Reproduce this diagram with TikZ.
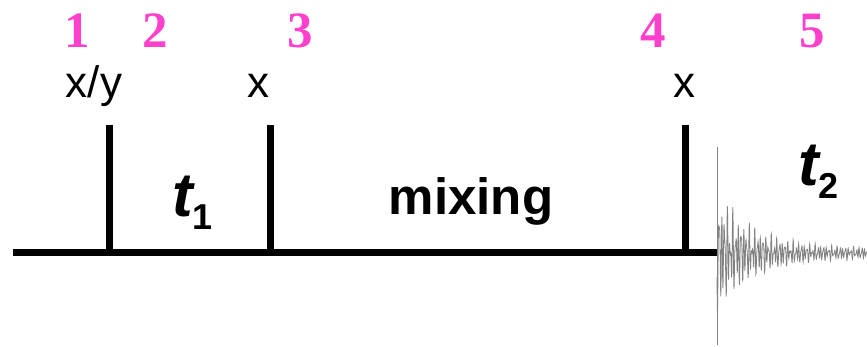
\documentclass[tikz,border=0pt]{standalone}
\usepackage{fontspec}
\setmainfont{Liberation Sans}
\newfontfamily\numfont{Liberation Serif}
\definecolor{pinklbl}{RGB}{255,64,204}
\definecolor{fidgray}{RGB}{130,130,130}
\begin{document}
\begin{tikzpicture}[x=1pt,y=-1pt,
  numlbl/.style={text=pinklbl,font=\numfont\bfseries\fontsize{51}{51}\selectfont,anchor=base,inner sep=0pt},
  phase/.style={font=\fontsize{44}{44}\selectfont,anchor=base,inner sep=0pt},
  pulse/.style={line width=7pt},
  baseline/.style={line width=7pt},
  period/.style={anchor=base west,inner sep=0pt}]
\useasboundingbox (0,0) rectangle (867,347);
% numbers
\node[numlbl] (n1) at (77,48) {1};
\node[numlbl] (n2) at (155,48) {2};
\node[numlbl] (n3) at (300,48) {3};
\node[numlbl] (n4) at (653,48) {4};
\node[numlbl] (n5) at (812,48) {5};
% phases
\node[phase] (p1) at (94,98) {x/y};
\node[phase] (p2) at (258,98) {x};
\node[phase] (p3) at (684,98) {x};
% base line and pulses
\coordinate (bs) at (13,253);
\coordinate (be) at (718,253);
\draw[baseline] (bs) -- (be);
\coordinate (a1) at (109,125); \coordinate (b1) at (109,253);
\coordinate (a2) at (270,125); \coordinate (b2) at (270,253);
\coordinate (a3) at (685,125); \coordinate (b3) at (685,253);
\draw[pulse] (b1) -- (a1);
\draw[pulse] (b2) -- (a2);
\draw[pulse] (b3) -- (a3);
% labels
\node[period] (t1) at (172,217) {{\fontsize{62}{62}\selectfont\bfseries\itshape t}\raisebox{-13pt}{\fontsize{36}{36}\selectfont\bfseries 1}};
\node[anchor=base,inner sep=0pt,font=\bfseries\fontsize{51}{51}\selectfont] (mix) at (471,215) {mixing};
\node[period] (t2) at (798,186) {{\fontsize{62}{62}\selectfont\bfseries\itshape t}\raisebox{-13pt}{\fontsize{36}{36}\selectfont\bfseries 2}};
% FID
\coordinate (fs) at (717,147);
\coordinate (fe) at (717,345);
\draw[fidgray,line width=1pt] (fs) -- (fe);
\draw[fidgray,line width=0.8pt] plot[domain=0:150,samples=600]
  ({717+\x},{253 + (65*exp(-\x/35)+6)*(0.5*sin(360*mod(\x*0.3639,1))+0.3*sin(360*mod(\x*0.5472,1)+30)+0.2*sin(360*mod(\x*0.2306,1)+70))});
\end{tikzpicture}
\end{document}
